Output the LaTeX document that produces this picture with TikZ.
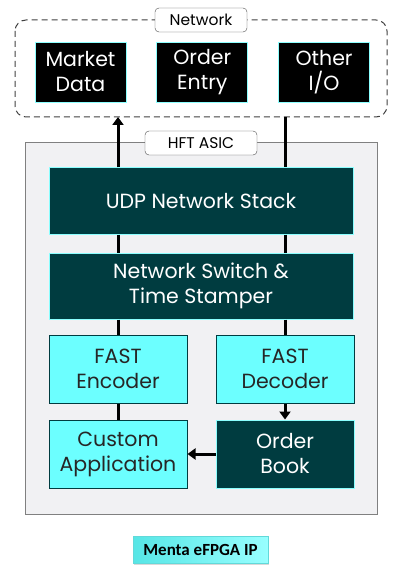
\documentclass[tikz,border=0pt]{standalone}
\usepackage{fontspec}
\setmainfont{Poppins}
\newfontfamily\labelfont{Carlito}
\usetikzlibrary{arrows.meta, positioning, calc, backgrounds, shadows}

\definecolor{darkteal}{HTML}{003C40}
\definecolor{brightcyan}{HTML}{6CFFFF}
\definecolor{edgecyan}{HTML}{8CFFFF}
\definecolor{asicgray}{HTML}{F1F1F3}

\begin{document}
\begin{tikzpicture}[
    x=1pt, y=-1pt,
    >={Triangle[width=11pt,length=8pt]},
    font=\fontsize{20.5}{25}\selectfont,
    % box styles
    netbox/.style={rectangle, draw=edgecyan, fill=black, text=white, line width=0.8pt, minimum width=91pt, minimum height=60pt, align=center, inner sep=0pt},
    darkbox/.style={rectangle, draw=edgecyan, fill=darkteal, text=white, line width=1pt, align=center, inner sep=0pt},
    cyanbox/.style={rectangle, draw=darkteal, fill=brightcyan, text=black!85, line width=1pt, minimum width=138pt, minimum height=68pt, align=center, inner sep=0pt},
    tagbox/.style={rectangle, rounded corners=4pt, draw=black!70, fill=white, font=\fontsize{15.5}{17}\selectfont, minimum height=24pt, inner sep=0pt},
    link/.style={line width=3pt, black}
]
\useasboundingbox (0,0) rectangle (401,569);

% -------------------------
% NETWORK (top)
% -------------------------
\node[netbox] (market) at (80.5,72) {Market\\Data};
\node[netbox, right=30pt of market] (entry) {Order\\Entry};
\node[netbox, right=30pt of entry] (other) {Other\\I/O};

\draw[black!75, dashed, dash pattern=on 6pt off 4pt, line width=1pt, rounded corners=11pt] (15,20) rectangle (387,117);
\coordinate (net_bottom) at (201,117);
\node[tagbox, minimum width=92pt] (netlabel) at (201,20) {Network};

% -------------------------
% HFT ASIC
% -------------------------
\node[rectangle, draw=black!50, fill=asicgray, line width=1pt, minimum width=352pt, minimum height=371pt, inner sep=0pt] (asic) at (201,328.5) {};
\node[tagbox, minimum width=112pt] (asiclabel) at (201,143) {HFT ASIC};

\node[darkbox, minimum width=304pt, minimum height=66pt] (udp) at (201,201) {UDP Network Stack};
\node[darkbox, minimum width=304pt, minimum height=66pt, below=18pt of udp] (switch) {Network Switch \&\\Time Stamper};

\node[cyanbox] (encoder) at (118,369) {FAST\\Encoder};
\node[cyanbox, right=28pt of encoder] (decoder) {FAST\\Decoder};
\node[cyanbox, below=16pt of encoder] (custom) {Custom\\Application};
\node[darkbox, minimum width=138pt, minimum height=68pt, below=16pt of decoder] (book) {Order\\Book};

% Connections
\coordinate (md_in) at (encoder.north |- net_bottom);
\coordinate (oo_out) at (decoder.north |- net_bottom);
\draw[link, ->] (udp.north -| encoder) -- (md_in);
\draw[link] (oo_out) -- (asiclabel.east -| decoder) -- (udp.north -| decoder);
\draw[link] (udp.south -| encoder) -- (switch.north -| encoder);
\draw[link] (udp.south -| decoder) -- (switch.north -| decoder);
\draw[link] (switch.south -| encoder) -- (encoder.north);
\draw[link] (switch.south -| decoder) -- (decoder.north);
\draw[link] (encoder) -- (custom);
\draw[link, ->] (decoder) -- (book);
\draw[link, ->] (book) -- (custom);

% -------------------------
% LEGEND
% -------------------------
\node[rectangle, draw=edgecyan!70!teal, left color=brightcyan!80!teal, right color=brightcyan!70!white, line width=0.6pt,
      minimum width=135pt, minimum height=27pt, inner sep=0pt,
      drop shadow={shadow xshift=1pt, shadow yshift=-2pt, opacity=0.3},
      font=\labelfont\bfseries\fontsize{17}{19}\selectfont] (menta) at (200.5,549.5) {Menta eFPGA IP};

\end{tikzpicture}
\end{document}
